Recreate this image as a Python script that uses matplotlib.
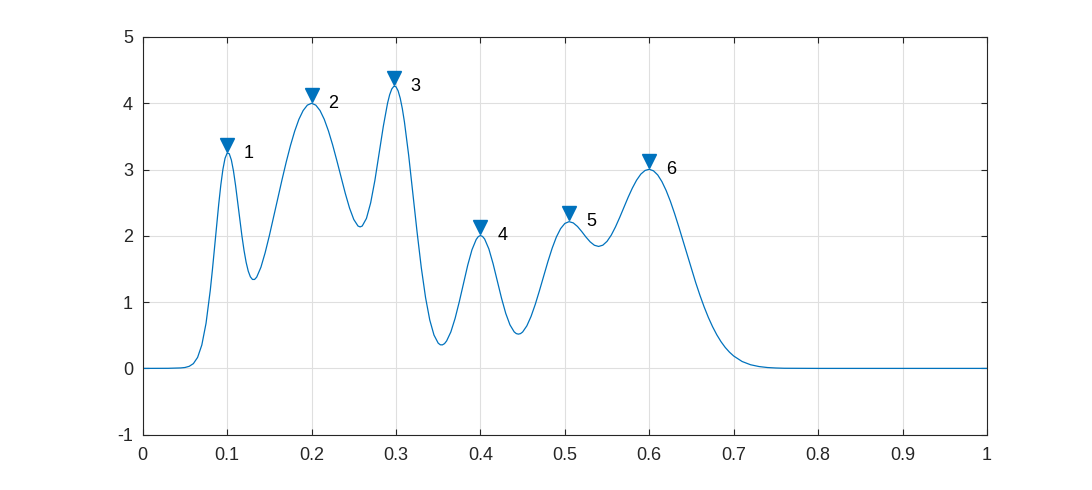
import matplotlib
matplotlib.use("Agg")
from matplotlib import pyplot as plt
from matplotlib.transforms import offset_copy

# curve
x = [0, 0.02, 0.03, 0.04, 0.045, 0.05, 0.055, 0.06, 0.065, 0.07, 0.075, 0.08, 0.0825, 0.085, 0.0875,
     0.09, 0.0925, 0.095, 0.0975, 0.1, 0.1025, 0.105, 0.1075, 0.11, 0.115, 0.1175, 0.12, 0.1225,
     0.125, 0.1275, 0.13, 0.1325, 0.135, 0.14, 0.145, 0.15, 0.155, 0.16, 0.165,
     0.17, 0.175, 0.18, 0.185, 0.19, 0.195, 0.2, 0.205, 0.21, 0.215, 0.22, 0.225, 0.23, 0.235,
     0.24, 0.245, 0.25, 0.255, 0.2575, 0.26, 0.265, 0.27, 0.275, 0.28, 0.285, 0.29, 0.2925, 0.295,
     0.2975, 0.3, 0.3025, 0.305, 0.3075,
     0.31, 0.315, 0.32, 0.325, 0.33, 0.335, 0.34, 0.345, 0.35, 0.3525, 0.355, 0.3575, 0.36, 0.365,
     0.37, 0.375, 0.38, 0.385, 0.39, 0.395, 0.3975, 0.4, 0.4025, 0.405, 0.41, 0.415, 0.42, 0.425,
     0.43, 0.435, 0.44, 0.4425, 0.445, 0.4475,
     0.45, 0.455, 0.46, 0.465, 0.47, 0.475, 0.48, 0.485, 0.49, 0.495, 0.5, 0.505, 0.51, 0.515,
     0.52, 0.525, 0.53, 0.535, 0.54, 0.545, 0.55, 0.555, 0.56, 0.565, 0.57, 0.575, 0.58, 0.585,
     0.59, 0.595, 0.6, 0.605, 0.61, 0.615, 0.62, 0.625, 0.63, 0.635, 0.64, 0.645, 0.65, 0.655,
     0.66, 0.665, 0.67, 0.675, 0.68, 0.685, 0.69, 0.695, 0.7, 0.71, 0.72, 0.73, 0.74, 0.75,
     0.76, 0.78, 0.8, 0.9, 1.0]
y = [0, 0.0005, 0.0013, 0.004, 0.007, 0.0135, 0.031, 0.072, 0.166, 0.353, 0.681, 1.177, 1.482, 1.811, 2.149,
     2.475, 2.768, 3.005, 3.170, 3.249, 3.239, 3.144, 2.978, 2.758, 2.247, 1.999, 1.780, 1.600,
     1.467, 1.382, 1.342, 1.342, 1.377, 1.526, 1.745, 2.003, 2.281, 2.565, 2.847,
     3.115, 3.362, 3.579, 3.758, 3.890, 3.972, 4.000, 3.972, 3.891, 3.759, 3.582, 3.370, 3.132, 2.884,
     2.638, 2.418, 2.247, 2.148, 2.135, 2.148, 2.263, 2.498, 2.836, 3.241, 3.653, 4.001, 4.129, 4.216,
     4.257, 4.249, 4.188, 4.077, 3.919,
     3.718, 3.217, 2.640, 2.054, 1.517, 1.070, 0.730, 0.503, 0.381, 0.356, 0.355, 0.374, 0.415, 0.551,
     0.754, 1.007, 1.286, 1.559, 1.790, 1.945, 1.989, 2.004, 1.991, 1.952, 1.803, 1.580, 1.319, 1.059,
     0.830, 0.657, 0.551, 0.525, 0.517, 0.525,
     0.549, 0.642, 0.785, 0.967, 1.176, 1.396, 1.614, 1.814, 1.983, 2.109, 2.187, 2.214, 2.195, 2.141,
     2.065, 1.982, 1.909, 1.858, 1.840, 1.859, 1.917, 2.011, 2.135, 2.278, 2.430, 2.582, 2.721, 2.840,
     2.931, 2.986, 3.004, 2.981, 2.919, 2.818, 2.684, 2.522, 2.336, 2.135, 1.924, 1.709, 1.498, 1.295,
     1.104, 0.928, 0.769, 0.629, 0.507, 0.403, 0.316, 0.245, 0.187, 0.104, 0.055, 0.028, 0.013, 0.006,
     0.002, 0.0003, 0, 0, 0]

# peaks found
pk_x = [0.1, 0.2, 0.2975, 0.4, 0.505, 0.6]
pk_y = [3.249, 4.000, 4.257, 2.004, 2.214, 3.004]
pk_lbl = ["1", "2", "3", "4", "5", "6"]

plt.rcParams["font.family"] = ["Liberation Sans", "DejaVu Sans"]
plt.rcParams["axes.unicode_minus"] = False

fig = plt.figure(figsize=(10.92, 4.9), dpi=100)
ax = fig.add_axes([0.1307, 0.1129, 0.7731, 0.8116])

blue = "#0072BD"
ax.plot(x, y, color=blue, lw=0.9)
# triangle tip sits on the peak
up = offset_copy(ax.transData, fig=fig, x=0, y=6, units="points")
ax.plot(pk_x, pk_y, "v", color=blue, markersize=10, transform=up)
for px, py, t in zip(pk_x, pk_y, pk_lbl):
    ax.text(px + 0.02, py, t, fontsize=13, color="black", va="center", ha="left")

ax.set_xlim(0, 1)
ax.set_ylim(-1, 5)
ax.set_xticks([i / 10 for i in range(11)])
ax.set_xticklabels(["0", "0.1", "0.2", "0.3", "0.4", "0.5", "0.6", "0.7", "0.8", "0.9", "1"])
ax.set_yticks(range(-1, 6))
ax.grid(True, color="#dfdfdf", lw=0.8)
ax.set_axisbelow(True)
for s in ax.spines.values():
    s.set_color("#262626")
    s.set_linewidth(0.8)
ax.tick_params(axis="both", direction="in", length=4, width=0.8, color="#262626",
               labelsize=13, labelcolor="#262626", top=True, right=True)
ax.tick_params(axis="x", pad=9)
ax.tick_params(axis="y", pad=7)

fig.savefig("out.png", dpi=100)
